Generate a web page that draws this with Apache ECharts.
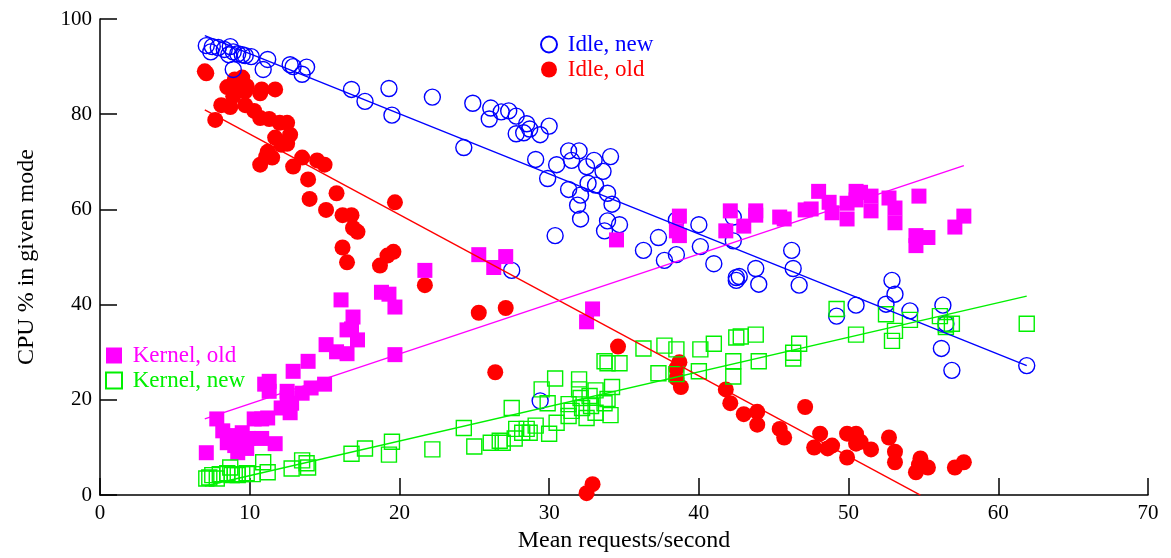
<!DOCTYPE html>
<html>
<head>
<meta charset="utf-8">
<script src="https://cdn.jsdelivr.net/npm/echarts@6/dist/echarts.min.js"></script>
<style>
  html, body { margin: 0; padding: 0; background: #fff; }
  #chart { width: 1171px; height: 558px; }
</style>
</head>
<body>
<div id="chart"></div>
<script>
// CPU utilisation by mode versus request rate, old and new kernels.
const xTicks = [0, 10, 20, 30, 40, 50, 60, 70];
const yTicks = [0, 20, 40, 60, 80, 100];

const seriesNames = ['Idle, new', 'Idle, old', 'Kernel, old', 'Kernel, new'];

// [requests/second, CPU %]
const idleNew = [
  [7.1,94.4],[7.5,94.2],[7.4,93.1],[7.9,94.0],[8.3,93.6],[8.6,92.5],[8.7,94.2],[8.9,93.1],
  [9.2,92.7],[9.5,92.5],[9.7,92.3],[10.1,92.1],[8.9,89.4],[10.9,89.4],[11.2,91.5],[12.7,90.4],
  [12.9,90.0],[13.5,88.4],[13.8,89.9],[16.8,85.2],[17.7,82.7],[19.3,85.4],[19.5,79.8],[22.2,83.6],
  [24.9,82.3],[26.1,81.3],[26.0,79.0],[26.8,80.5],[27.3,80.7],[27.8,79.6],[28.5,78.0],[28.7,76.9],
  [27.8,75.9],[28.3,76.1],[29.4,75.7],[30.0,77.5],[24.3,73.0],[29.1,70.5],[30.5,69.4],[29.9,66.5],
  [31.3,72.3],[32.0,72.3],[31.5,70.3],[32.5,69.0],[33.0,70.3],[33.6,68.0],[34.1,71.1],[31.3,64.2],
  [32.1,63.0],[32.6,65.5],[33.1,65.1],[33.9,63.4],[34.2,61.1],[31.9,60.9],[32.1,58.0],[33.9,57.6],
  [33.7,55.5],[34.7,56.8],[30.4,54.5],[27.5,47.2],[36.3,51.4],[37.3,54.1],[37.7,49.3],[38.5,50.5],
  [38.5,57.8],[40.0,56.8],[40.1,52.2],[41.0,48.6],[42.3,58.4],[42.3,53.4],[42.5,45.7],[42.7,45.9],
  [42.5,45.1],[43.8,47.6],[44.0,44.3],[46.2,51.4],[46.3,47.6],[46.7,44.1],[49.2,37.6],[50.5,39.9],
  [52.9,45.1],[53.1,42.2],[52.5,40.1],[54.1,38.7],[56.3,39.9],[56.5,36.0],[56.2,30.8],[56.9,26.2],
  [61.9,27.2],[29.4,19.8]
];

const idleOld = [
  [7.1,88.6],[7.0,89.0],[7.7,78.8],[8.1,81.9],[8.5,85.7],[8.7,81.5],[8.9,83.8],[9.0,87.3],
  [9.2,85.7],[9.5,87.7],[9.7,84.8],[9.8,85.9],[9.0,84.6],[9.7,81.9],[10.3,80.7],[10.8,85.2],
  [10.7,84.4],[11.7,85.2],[10.7,79.2],[11.3,79.0],[12.0,78.2],[12.5,78.2],[12.7,75.7],[11.7,75.1],
  [12.1,73.6],[12.5,73.8],[11.2,72.1],[11.1,71.1],[11.5,70.9],[10.7,69.4],[12.9,69.0],[13.5,70.9],
  [14.5,70.3],[15.0,69.4],[13.9,66.3],[15.8,63.4],[14.0,62.2],[15.1,59.9],[16.2,58.8],[16.8,58.8],
  [16.9,56.1],[17.2,55.3],[19.7,61.5],[16.2,52.0],[16.5,48.9],[18.7,48.2],[19.2,50.3],[19.6,51.1],
  [21.7,44.1],[25.3,38.3],[27.1,39.3],[26.4,25.8],[34.6,31.2],[38.7,27.9],[38.5,26.6],[38.5,24.5],
  [38.8,22.7],[32.9,2.3],[32.5,0.4],[41.8,22.2],[42.1,19.3],[43.0,17.0],[43.9,17.5],[43.9,14.8],
  [45.4,13.9],[45.7,12.1],[47.1,18.5],[47.7,10.0],[48.1,12.9],[48.6,9.8],[48.9,10.4],[49.9,12.9],
  [49.9,7.9],[50.5,12.9],[50.5,10.8],[50.8,11.2],[51.5,9.6],[52.7,12.1],[53.1,9.1],[53.1,6.9],
  [54.5,4.8],[54.7,6.4],[54.8,7.7],[55.3,5.8],[57.1,5.8],[57.7,6.9]
];

const kernelOld = [
  [7.1,8.9],[7.8,16.0],[8.2,13.5],[8.5,11.0],[8.8,12.5],[9.0,10.4],[9.2,8.9],[9.5,13.1],
  [9.7,11.0],[9.8,9.8],[9.9,11.9],[10.3,16.0],[10.8,11.9],[11.7,10.8],[10.8,16.0],[11.2,16.2],
  [11.0,23.3],[11.3,21.8],[11.3,23.9],[12.1,18.3],[12.5,20.4],[12.7,17.3],[12.8,19.3],[12.5,21.8],
  [12.9,26.0],[13.5,21.4],[13.9,28.1],[14.1,22.5],[15.0,23.3],[15.1,31.6],[16.1,41.0],[16.9,37.4],
  [16.8,34.9],[16.5,34.7],[17.2,32.6],[15.8,30.1],[16.5,29.7],[18.8,42.6],[19.3,42.2],[19.7,39.5],
  [19.7,29.5],[21.7,47.2],[25.3,50.5],[27.1,50.1],[26.3,47.8],[32.9,39.1],[32.5,36.4],[34.5,53.6],
  [38.7,58.6],[38.5,55.5],[38.7,54.5],[42.1,59.7],[41.8,55.5],[43.0,56.5],[43.8,59.7],[43.8,58.8],
  [45.4,58.4],[45.7,58.0],[47.1,59.9],[47.5,60.1],[48.0,63.8],[48.7,61.5],[48.9,59.3],[49.9,61.3],
  [49.9,58.0],[50.5,63.8],[50.5,62.0],[50.8,63.6],[51.5,62.8],[51.5,59.7],[52.7,62.4],[53.1,60.3],
  [53.1,57.2],[54.7,62.8],[54.5,54.5],[54.5,52.4],[55.3,54.1],[57.1,56.3],[57.7,58.6]
];

const kernelNew = [
  [7.1,3.5],[7.3,3.7],[7.5,4.2],[7.8,3.5],[8.0,4.4],[8.5,4.6],[8.7,5.8],[8.8,4.2],
  [9.0,4.4],[9.2,4.2],[9.5,4.4],[9.8,4.6],[10.2,4.4],[10.9,6.9],[11.2,4.8],[12.8,5.6],
  [13.5,7.3],[13.8,6.7],[13.9,5.8],[16.8,8.7],[17.7,9.8],[19.3,8.5],[19.5,11.2],[22.2,9.6],
  [24.3,14.1],[25.0,10.2],[26.1,11.0],[26.7,11.4],[26.9,11.0],[27.5,18.3],[27.7,11.9],[27.8,13.9],
  [28.2,13.1],[28.5,13.9],[28.7,13.1],[29.1,14.6],[29.5,22.2],[29.9,19.3],[30.0,12.9],[30.5,15.2],
  [30.4,24.5],[31.3,19.1],[31.3,16.6],[31.5,17.7],[32.0,24.3],[32.0,22.2],[32.1,20.4],[32.2,18.3],
  [32.5,16.2],[32.7,20.8],[32.8,18.7],[33.1,22.0],[33.1,17.3],[33.7,19.3],[33.9,20.2],[34.2,22.7],
  [34.1,16.8],[33.7,28.1],[33.9,27.7],[34.7,27.7],[36.3,30.8],[37.3,25.6],[37.7,31.4],[38.5,30.6],
  [38.5,25.4],[40.1,30.6],[40.0,26.0],[41.0,31.8],[42.3,28.1],[42.3,24.9],[42.5,33.1],[42.8,33.3],
  [43.8,33.7],[44.0,28.1],[46.3,29.9],[46.3,28.7],[46.7,31.8],[49.2,39.1],[50.5,33.7],[52.5,38.0],
  [52.9,32.4],[53.1,34.5],[54.1,36.8],[56.1,37.6],[56.5,35.8],[56.5,35.3],[56.9,36.0],[61.9,36.0]
];

// Least-squares fit lines, as two endpoints each
const idleNewFit   = [[7.0, 96.5], [61.9, 27.2]];
const idleOldFit   = [[7.0, 80.9], [54.8, 0.0]];
const kernelOldFit = [[7.0, 16.0], [57.7, 69.2]];
const kernelNewFit = [[7.0, 1.9],  [61.9, 41.8]];

const BLUE = '#0000ff', RED = '#ff0000', MAGENTA = '#ff00ff', GREEN = '#00f000';
const FONT = '"Liberation Serif", "DejaVu Serif", serif';

function fitLine(name, data, color) {
  return {
    name: name, type: 'line', data: data, showSymbol: false, silent: true,
    lineStyle: { color: color, width: 1.4 }, z: 3, animation: false
  };
}

function scatter(name, data, symbol, size, style) {
  return {
    name: name, type: 'scatter', data: data, symbol: symbol, symbolSize: size,
    itemStyle: Object.assign({ opacity: 1 }, style), silent: true, animation: false, z: 2
  };
}

const chart = echarts.init(document.getElementById('chart'), null, { renderer: 'canvas' });

const axisCommon = {
  axisLine: { show: true, lineStyle: { color: '#000', width: 1.5 } },
  axisTick: { show: true, inside: true, length: 17, lineStyle: { color: '#000', width: 1.5 } },
  splitLine: { show: false },
  axisLabel: { color: '#000', fontFamily: FONT, fontSize: 21, margin: 8 },
  nameTextStyle: { color: '#000', fontFamily: FONT, fontSize: 24 }
};

chart.setOption({
  backgroundColor: '#fff',
  animation: false,
  grid: { left: 100, right: 23, top: 19, bottom: 58, containLabel: false },
  xAxis: Object.assign({}, axisCommon, {
    type: 'value', min: xTicks[0], max: xTicks[xTicks.length - 1], interval: 10,
    name: 'Mean requests/second', nameLocation: 'middle', nameGap: 32
  }),
  yAxis: Object.assign({}, axisCommon, {
    type: 'value', min: yTicks[0], max: yTicks[yTicks.length - 1], interval: 20,
    name: 'CPU % in given mode', nameLocation: 'middle', nameGap: 61, nameRotate: 90
  }),
  legend: [
    {
      orient: 'vertical', left: 535, top: 28, itemWidth: 16, itemHeight: 16, itemGap: 2,
      selectedMode: false, formatter: ' {name}',
      textStyle: { fontFamily: FONT, fontSize: 23 },
      data: [
        { name: seriesNames[0], textStyle: { color: BLUE } },
        { name: seriesNames[1], textStyle: { color: RED } }
      ]
    },
    {
      orient: 'vertical', left: 100, top: 339, itemWidth: 16, itemHeight: 16, itemGap: 2,
      selectedMode: false, formatter: ' {name}',
      textStyle: { fontFamily: FONT, fontSize: 23 },
      data: [
        { name: seriesNames[2], textStyle: { color: MAGENTA } },
        { name: seriesNames[3], textStyle: { color: GREEN } }
      ]
    }
  ],
  series: [
    scatter(seriesNames[1], idleOld, 'circle', 16, { color: RED }),
    scatter(seriesNames[0], idleNew, 'circle', 16, { color: 'rgba(0,0,0,0)', borderColor: BLUE, borderWidth: 1.4 }),
    scatter(seriesNames[2], kernelOld, 'rect', 15, { color: MAGENTA }),
    scatter(seriesNames[3], kernelNew, 'rect', 15, { color: 'rgba(0,0,0,0)', borderColor: GREEN, borderWidth: 1.4 }),
    fitLine('Idle, new fit', idleNewFit, BLUE),
    fitLine('Idle, old fit', idleOldFit, RED),
    fitLine('Kernel, old fit', kernelOldFit, MAGENTA),
    fitLine('Kernel, new fit', kernelNewFit, GREEN)
  ]
});
</script>
</body>
</html>
